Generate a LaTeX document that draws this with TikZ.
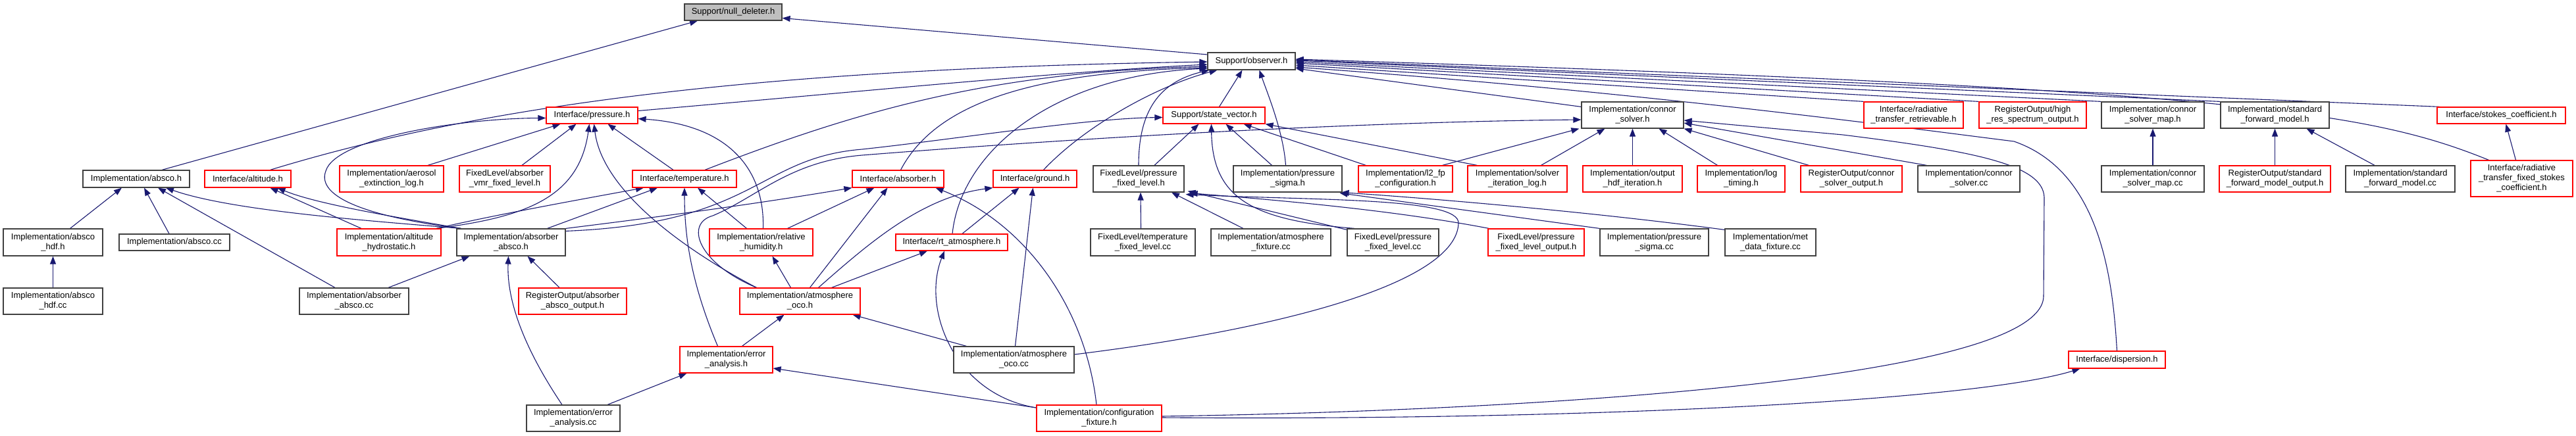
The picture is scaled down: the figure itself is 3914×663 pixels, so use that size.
\documentclass[tikz,border=0pt]{standalone}
\usepackage{fontspec}
\setmainfont{Liberation Sans}
\usetikzlibrary{arrows.meta,backgrounds}
\definecolor{eb}{HTML}{191970}
\definecolor{rb}{HTML}{FF0000}
\definecolor{kb}{HTML}{404040}
\definecolor{gf}{HTML}{BFBFBF}
\newcommand\nd[7]{\node[#6,minimum width=#4pt,minimum height=#5pt] (#1) at (#2,#3) {#7};}
\begin{document}
\begin{tikzpicture}[x=1pt,y=-1pt,
  box/.style={draw, rectangle, inner sep=0pt, align=center, fill=white,
    font=\fontsize{13}{15}\selectfont, line width=1.2pt},
  rn/.style={box, draw=rb},
  bn/.style={box, draw=kb},
  gn/.style={box, draw=kb, fill=gf},
  edg/.style={draw=eb, line width=1.1pt, -{Triangle[length=12pt,width=9pt]}}]
\useasboundingbox (0,0) rectangle (3914,663);
% row 1
\nd{nulldel}{1114}{18.5}{148}{25}{gn}{Support/null\_deleter.h}
\nd{observer}{1901.5}{93}{133}{26}{bn}{Support/observer.h}
% row 2
\nd{pressure}{899.5}{175.5}{139}{25}{rn}{Interface/pressure.h}
\nd{statevec}{1844.5}{175.5}{155}{25}{rn}{Support/state\_vector.h}
\nd{connor}{2480.5}{175}{155}{40}{bn}{Implementation/connor\\\_solver.h}
\nd{rtretr}{2907.5}{175}{151}{40}{rn}{Interface/radiative\\\_transfer\_retrievable.h}
\nd{highres}{3088.5}{175}{163}{40}{rn}{RegisterOutput/high\\\_res\_spectrum\_output.h}
\nd{csmap}{3271}{175}{156}{40}{bn}{Implementation/connor\\\_solver\_map.h}
\nd{sfm}{3456.5}{175}{165}{40}{bn}{Implementation/standard\\\_forward\_model.h}
\nd{stokes}{3800.5}{175.5}{195}{25}{rn}{Interface/stokes\_coefficient.h}
% row 3
\nd{absco}{207}{272}{162}{26}{bn}{Implementation/absco.h}
\nd{altitude}{376.5}{272}{131}{26}{rn}{Interface/altitude.h}
\nd{aerosol}{595}{272}{158}{40}{rn}{Implementation/aerosol\\\_extinction\_log.h}
\nd{absvmr}{767}{272}{138}{40}{rn}{FixedLevel/absorber\\\_vmr\_fixed\_level.h}
\nd{temperature}{1040}{272}{158}{26}{rn}{Interface/temperature.h}
\nd{absorber}{1364.5}{272}{139}{26}{rn}{Interface/absorber.h}
\nd{ground}{1572.5}{272}{127}{26}{rn}{Interface/ground.h}
\nd{pfl}{1730}{272}{138}{40}{bn}{FixedLevel/pressure\\\_fixed\_level.h}
\nd{psigma}{1956.5}{272}{165}{40}{bn}{Implementation/pressure\\\_sigma.h}
\nd{ltwofp}{2135.5}{272}{143}{40}{rn}{Implementation/l2\_fp\\\_configuration.h}
\nd{solverlog}{2305.5}{272}{151}{40}{rn}{Implementation/solver\\\_iteration\_log.h}
\nd{outhdf}{2480.5}{272}{151}{40}{rn}{Implementation/output\\\_hdf\_iteration.h}
\nd{logtiming}{2645.5}{272}{133}{40}{rn}{Implementation/log\\\_timing.h}
\nd{csout}{2813}{272}{154}{40}{rn}{RegisterOutput/connor\\\_solver\_output.h}
\nd{cscc}{2991.5}{272}{155}{40}{bn}{Implementation/connor\\\_solver.cc}
\nd{csmapcc}{3271}{272}{156}{40}{bn}{Implementation/connor\\\_solver\_map.cc}
\nd{sfmout}{3456.5}{272}{169}{40}{rn}{RegisterOutput/standard\\\_forward\_model\_output.h}
\nd{sfmcc}{3647}{272}{166}{40}{bn}{Implementation/standard\\\_forward\_model.cc}
\nd{rtfixed}{3831.5}{271.5}{155}{55}{rn}{Interface/radiative\\\_transfer\_fixed\_stokes\\\_coefficient.h}
% row 4
\nd{abscohdf}{80.5}{368.5}{151}{41}{bn}{Implementation/absco\\\_hdf.h}
\nd{abscocc}{265}{368.5}{168}{25}{bn}{Implementation/absco.cc}
\nd{althydro}{591}{368.5}{158}{41}{rn}{Implementation/altitude\\\_hydrostatic.h}
\nd{absabsh}{776.5}{368.5}{165}{41}{bn}{Implementation/absorber\\\_absco.h}
\nd{relhum}{1156.5}{368.5}{157}{41}{rn}{Implementation/relative\\\_humidity.h}
\nd{rtatm}{1446}{368.5}{170}{25}{rn}{Interface/rt\_atmosphere.h}
\nd{tflcc}{1736.5}{368.5}{159}{41}{bn}{FixedLevel/temperature\\\_fixed\_level.cc}
\nd{atmfix}{1931}{368.5}{182}{41}{bn}{Implementation/atmosphere\\\_fixture.cc}
\nd{pflcc}{2116.5}{368.5}{139}{41}{bn}{FixedLevel/pressure\\\_fixed\_level.cc}
\nd{pflout}{2334}{368.5}{146}{41}{rn}{FixedLevel/pressure\\\_fixed\_level\_output.h}
\nd{psigcc}{2513.5}{368.5}{165}{41}{bn}{Implementation/pressure\\\_sigma.cc}
\nd{metdata}{2690}{368.5}{138}{41}{bn}{Implementation/met\\\_data\_fixture.cc}
% row 5
\nd{abscohdfcc}{80.5}{458}{151}{40}{bn}{Implementation/absco\\\_hdf.cc}
\nd{absabscc}{538}{458}{166}{40}{bn}{Implementation/absorber\\\_absco.cc}
\nd{absabsout}{870}{458}{164}{40}{rn}{RegisterOutput/absorber\\\_absco\_output.h}
\nd{atmoco}{1215.5}{458}{183}{40}{rn}{Implementation/atmosphere\\\_oco.h}
% row 6
\nd{errh}{1103.5}{547}{141}{40}{rn}{Implementation/error\\\_analysis.h}
\nd{atmocc}{1540.5}{547}{183}{40}{bn}{Implementation/atmosphere\\\_oco.cc}
\nd{dispersion}{3216.5}{547}{147}{26}{rn}{Interface/dispersion.h}
% row 7
\nd{errcc}{871}{636}{142}{40}{bn}{Implementation/error\\\_analysis.cc}
\nd{configfix}{1670}{636}{190}{40}{rn}{Implementation/configuration\\\_fixture.h}

\begin{pgfonlayer}{background}
\fill[white] (0,0) rectangle (3914,663);
% to null_deleter
\draw[edg] ([xshift=39pt]absco.north) -- ([xshift=-54pt]nulldel.south);
\draw[edg] ([yshift=10pt]observer.west) -- ([yshift=-9pt]nulldel.east);
% to observer
\draw[edg] ([xshift=34pt]altitude.north) .. controls (700,170) and (1100,105) .. ([yshift=-1pt]observer.west);
\draw[edg] ([yshift=7pt]pressure.east) .. controls (1300,140) and (1600,110) .. ([yshift=-5pt]observer.west);
\draw[edg] ([xshift=31pt]temperature.north) .. controls (1300,170) and (1500,110) .. ([yshift=-8pt]observer.west);
\draw[edg] ([xshift=4pt]absorber.north) .. controls (1420,160) and (1560,110) .. ([yshift=-10pt]observer.west);
\draw[edg] ([xshift=1pt]rtatm.north) .. controls (1460,230) and (1600,115) .. ([yshift=-11pt]observer.west);
\draw[edg] ([xshift=13pt]ground.north) .. controls (1650,190) and (1760,130) .. ([xshift=-52pt]observer.south);
\draw[edg] (pfl.north) .. controls (1730,170) and (1760,125) .. ([xshift=-64pt]observer.south);
\draw[edg] ([xshift=8pt]statevec.north) -- ([xshift=-14pt]observer.south);
\draw[edg] ([xshift=-3pt]psigma.north) .. controls (1950,200) and (1925,140) .. ([xshift=12pt]observer.south);
\draw[edg] ([yshift=-8pt]connor.north west) -- ([yshift=-11pt]observer.east);
\draw[edg] (rtretr.north west) -- ([yshift=-6pt]observer.east);
\draw[edg] (highres.north west) -- ([yshift=-3pt]observer.east);
\draw[edg] (csmap.north west) -- ([yshift=-1pt]observer.east);
\draw[edg] (sfm.north west) -- ([yshift=1pt]observer.east);
\draw[edg] ([xshift=5pt]stokes.north west) -- ([yshift=2pt]observer.east);
\draw[edg] ([xshift=-50pt]rtfixed.north) .. controls (3600,170) and (3400,135) .. ([yshift=3pt]observer.east);
\draw[edg] (dispersion.north) .. controls (3210,420) and (3190,260) .. (3060,215) .. controls (2900,195) and (2500,140) .. ([yshift=-9pt]observer.east);
% configuration fixture
\draw[edg] ([yshift=3pt]configfix.east) .. controls (2300,625) and (3105,580) .. (3105,450) -- (3106,300) .. controls (3104,250) and (3000,230) .. (2800,205) -- ([yshift=-8pt]connor.east);
\draw[edg] ([yshift=1pt]configfix.east) .. controls (2400,640) and (3000,610) .. ([xshift=-56pt]dispersion.south);
\draw[edg] ([yshift=16pt]configfix.west) -- ([yshift=-13pt]errh.east);
\draw[edg] ([yshift=16pt]configfix.west) .. controls (1450,600) and (1400,470) .. ([xshift=-11pt]rtatm.south);
\draw[edg] ([xshift=-4pt]configfix.north) .. controls (1650,470) and (1560,340) .. ([xshift=57pt]absorber.south);
% error analysis
\draw[edg] ([xshift=24pt]errh.north) -- ([xshift=-24pt]atmoco.south);
\draw[edg] ([xshift=-13pt]errh.north) .. controls (1050,430) and (1040,360) .. (temperature.south);
\draw[edg] ([xshift=52pt]errcc.north) -- ([xshift=-60pt]errh.south);
\draw[edg] ([xshift=-17pt]errcc.north) .. controls (790,520) and (770,450) .. ([xshift=-4pt]absabsh.south);
% absorber absco
\draw[edg] ([xshift=-20pt]absabsout.north) -- ([xshift=25pt]absabsh.south);
\draw[edg] ([xshift=52pt]absabscc.north) -- ([xshift=-63pt]absabsh.south);
\draw[edg] ([xshift=-29pt]absabscc.north) -- ([xshift=33pt]absco.south);
\draw[edg] ([xshift=-8pt]abscocc.north) -- ([xshift=12pt]absco.south);
\draw[edg] ([xshift=26pt]abscohdf.north) -- ([xshift=-22pt]absco.south);
\draw[edg] (abscohdfcc) -- (abscohdf);
\draw[edg] ([xshift=-76pt]absabsh.north) .. controls (550,335) and (350,320) .. ([xshift=45pt]absco.south);
\draw[edg] ([xshift=-76pt]absabsh.north) .. controls (600,330) and (480,310) .. ([xshift=45pt]altitude.south);
\draw[edg] ([xshift=-76pt]absabsh.north) .. controls (560,330) and (480,300) .. (495,260) .. controls (510,210) and (700,180) .. ([yshift=-4pt]pressure.west);
\draw[edg] ([xshift=55pt]absabsh.north) -- ([xshift=-41pt]temperature.south);
\draw[edg] (absabsh.north east) .. controls (1000,330) and (1150,310) .. (absorber.south west);
\draw[edg] ([yshift=-4pt]absabsh.north east) .. controls (1150,340) and (1150,240) .. (1310,227) .. controls (1450,212) and (1650,180) .. ([yshift=-3pt]statevec.west);
% altitude hydrostatic
\draw[edg] ([xshift=-42pt]althydro.north) -- ([xshift=34pt]altitude.south);
\draw[edg] ([xshift=72pt]althydro.north) .. controls (800,330) and (880,300) .. ([xshift=-4pt]pressure.south);
\draw[edg] ([xshift=72pt]althydro.north) .. controls (760,325) and (900,300) .. ([xshift=-62pt]temperature.south);
% pressure
\draw[edg] ([xshift=-17pt]temperature.north) -- ([xshift=24pt]pressure.south);
\draw[edg] ([xshift=55pt]aerosol.north) -- ([xshift=-48pt]pressure.south);
\draw[edg] ([xshift=26pt]absvmr.north) -- ([xshift=-24pt]pressure.south);
% atmosphere oco
\draw[edg] ([xshift=-66pt]atmoco.north) .. controls (1040,380) and (915,290) .. ([xshift=3pt]pressure.south);
\draw[edg] ([xshift=-66pt]atmoco.north) .. controls (1060,400) and (1040,340) .. (1083,328) .. controls (1150,300) and (1200,245) .. (1310,236) .. controls (1700,205) and (2100,185) .. ([yshift=-7pt]connor.west);
\draw[edg] ([xshift=-14pt]atmoco.north) -- ([xshift=17pt]relhum.south);
\draw[edg] ([xshift=15pt]atmoco.north) -- ([xshift=-16pt]absorber.south);
\draw[edg] ([xshift=28pt]atmoco.north) .. controls (1320,370) and (1400,300) .. (ground.south west);
\draw[edg] ([xshift=48pt]atmoco.north) -- ([xshift=-37pt]rtatm.south);
\draw[edg] ([xshift=-72pt]atmocc.north) -- ([xshift=80pt]atmoco.south);
\draw[edg] ([xshift=2pt]atmocc.north) -- ([xshift=-3pt]ground.south);
\draw[edg] ([yshift=8pt]atmocc.east) .. controls (1950,500) and (2212,430) .. (2216,340) .. controls (2220,300) and (2000,305) .. ([xshift=2pt,yshift=-3pt]pfl.south east);
% relative humidity
\draw[edg] ([xshift=3pt]relhum.north) .. controls (1162,260) and (1110,190) .. ([yshift=-5pt]pressure.east);
\draw[edg] ([xshift=-22pt]relhum.north) -- ([xshift=20pt]temperature.south);
\draw[edg] ([xshift=40pt]relhum.north) -- ([xshift=-36pt]absorber.south);
\draw[edg] ([xshift=16pt]rtatm.north) -- ([xshift=-24pt]ground.south);
% fixed level
\draw[edg] ([xshift=-3pt]tflcc.north) -- ([xshift=3pt]pfl.south);
\draw[edg] ([xshift=-42pt]atmfix.north) -- ([xshift=50pt]pfl.south);
\draw[edg] ([yshift=-2pt]pflcc.north west) -- ([xshift=5pt,yshift=2pt]pfl.south east);
\draw[edg] ([xshift=2pt]pflout.north west) .. controls (2120,320) and (1950,305) .. ([xshift=8pt,yshift=-1pt]pfl.south east);
\draw[edg] ([xshift=12pt]pflcc.north west) .. controls (1900,335) and (1842,300) .. ([xshift=-4pt]statevec.south);
\draw[edg] (psigcc.north west) -- ([xshift=-4pt,yshift=-1pt]psigma.south east);
\draw[edg] ([yshift=-2pt]metdata.north west) .. controls (2400,320) and (2150,300) .. ([xshift=-2pt]psigma.south east);
% state vector
\draw[edg] ([xshift=-24pt]psigma.north) -- ([xshift=18pt]statevec.south);
\draw[edg] ([xshift=24pt]pfl.north) -- ([xshift=-23pt]statevec.south);
\draw[edg] ([xshift=12pt]ltwofp.north west) -- ([xshift=45pt]statevec.south);
\draw[edg] ([xshift=15pt]solverlog.north west) -- (statevec.south east);
% connor solver
\draw[edg] ([xshift=56pt]ltwofp.north) -- ([xshift=-3pt]connor.south west);
\draw[edg] ([xshift=36pt]solverlog.north) -- ([xshift=-42pt]connor.south);
\draw[edg] (outhdf) -- (connor);
\draw[edg] ([xshift=-36pt]logtiming.north) -- ([xshift=40pt]connor.south);
\draw[edg] ([xshift=13pt]csout.north west) -- (connor.south east);
\draw[edg] ([xshift=14pt]cscc.north west) -- ([yshift=-12pt]connor.east);
% right part
\draw[edg] (csmapcc) -- (csmap);
\draw[edg] (sfmout) -- (sfm);
\draw[edg] ([xshift=-39pt]sfmcc.north) -- ([xshift=48pt]sfm.south);
\draw[edg] ([xshift=-9pt]rtfixed.north) -- ([xshift=7pt]stokes.south);
\end{pgfonlayer}
\end{tikzpicture}
\end{document}
